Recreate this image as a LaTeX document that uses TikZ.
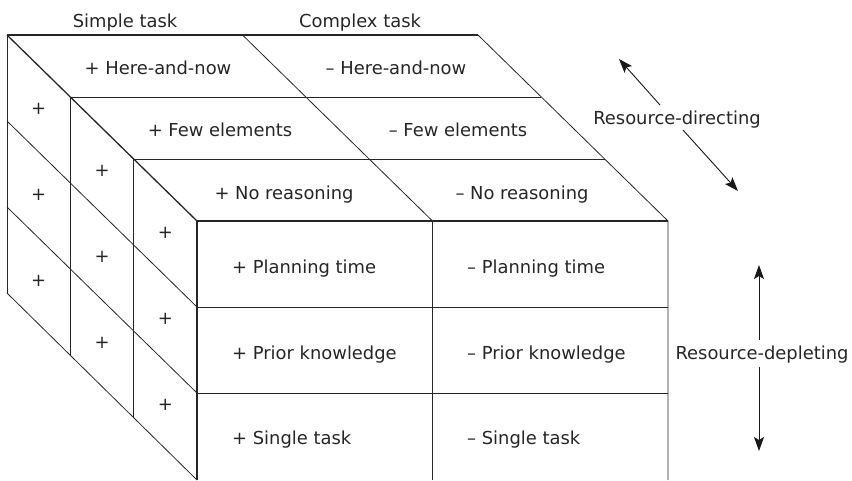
\documentclass[tikz,border=0pt]{standalone}
\usepackage{fontspec}
\setmainfont{DejaVu Sans}
\usetikzlibrary{arrows.meta}
\begin{document}
\begin{tikzpicture}[x=1pt,y=-1pt,
  thin line/.style={line width=0.8pt,black!85},
  thick line/.style={line width=1.3pt,black!85},
  lbl/.style={inner sep=0pt,font=\fontsize{17.9}{20}\selectfont,text=black!85},
  arr/.style={line width=0.9pt,black!90,-{Stealth[length=14pt,width=10pt,inset=3pt]}}]
\useasboundingbox (0,0) rectangle (852,480);
% cube corners
\coordinate (A) at (7,35);
\coordinate (B) at (478,35);
\coordinate (C) at (197,221);
\coordinate (D) at (668,221);
\coordinate (E) at (197,480);
\coordinate (F) at (668,480);
\coordinate (G) at (7,293);
% top face inner lines
\draw[thin line] (70.3,97) -- (541.3,97);
\draw[thin line] (133.7,159) -- (604.7,159);
\draw[thin line] (242.5,35) -- (432.5,221);
% front face inner lines
\draw[thin line] (C |- 0,307) -- (D |- 0,307);
\draw[thin line] (C |- 0,393) -- (D |- 0,393);
\draw[thin line] (432.5,221) -- (432.5,480);
% left face inner lines
\draw[thin line] (70.3,97) -- (70.3,355);
\draw[thin line] (133.7,159) -- (133.7,417);
\draw[thin line] (7,121) -- (197,307);
\draw[thin line] (7,207) -- (197,393);
\draw[thin line] (G) -- (E);
% outline
\draw[thin line] (G) -- (A);
\draw[thick line] (A) -- (B);
\draw[thin line] (B) -- (D) -- (F);
\draw[thick line] (A) -- (C);
\draw[thick line] (E) -- (C) -- (D);
% column headings
\node[lbl,anchor=base] (simple) at (125,27) {Simple task};
\node[lbl,anchor=base] (complex) at (360,27) {Complex task};
% top face labels
\node[lbl,anchor=base] (t1) at (158,74) {+ Here-and-now};
\node[lbl,anchor=base] (t2) at (396,74) {– Here-and-now};
\node[lbl,anchor=base] (t3) at (220,136) {+ Few elements};
\node[lbl,anchor=base] (t4) at (458,136) {– Few elements};
\node[lbl,anchor=base] (t5) at (284,199) {+ No reasoning};
\node[lbl,anchor=base] (t6) at (522,199) {– No reasoning};
% front face labels
\node[lbl,anchor=base west] (f1) at (232,273) {+ Planning time};
\node[lbl,anchor=base west] (f2) at (467,273) {– Planning time};
\node[lbl,anchor=base west] (f3) at (232,359) {+ Prior knowledge};
\node[lbl,anchor=base west] (f4) at (467,359) {– Prior knowledge};
\node[lbl,anchor=base west] (f5) at (232,444) {+ Single task};
\node[lbl,anchor=base west] (f6) at (467,444) {– Single task};
% left face pluses
\node[lbl] (p11) at (38.7,109) {+};
\node[lbl] (p12) at (38.7,195) {+};
\node[lbl] (p13) at (38.7,281) {+};
\node[lbl] (p21) at (102,171) {+};
\node[lbl] (p22) at (102,257) {+};
\node[lbl] (p23) at (102,343) {+};
\node[lbl] (p31) at (165.3,233) {+};
\node[lbl] (p32) at (165.3,319) {+};
\node[lbl] (p33) at (165.3,405) {+};
% resource-directing
\node[lbl,anchor=base] (dir) at (677,124) {Resource-directing};
\coordinate (d1s) at (660,105);
\coordinate (d1e) at (619,59);
\coordinate (d2s) at (683,130);
\coordinate (d2e) at (738,191);
\draw[arr] (d1s) -- (d1e);
\draw[arr] (d2s) -- (d2e);
% resource-depleting
\node[lbl,anchor=base] (dep) at (762,359) {Resource-depleting};
\coordinate (e1s) at (759,340);
\coordinate (e1e) at (759,265);
\coordinate (e2s) at (759,367);
\coordinate (e2e) at (759,451);
\draw[arr] (e1s) -- (e1e);
\draw[arr] (e2s) -- (e2e);
\end{tikzpicture}
\end{document}
